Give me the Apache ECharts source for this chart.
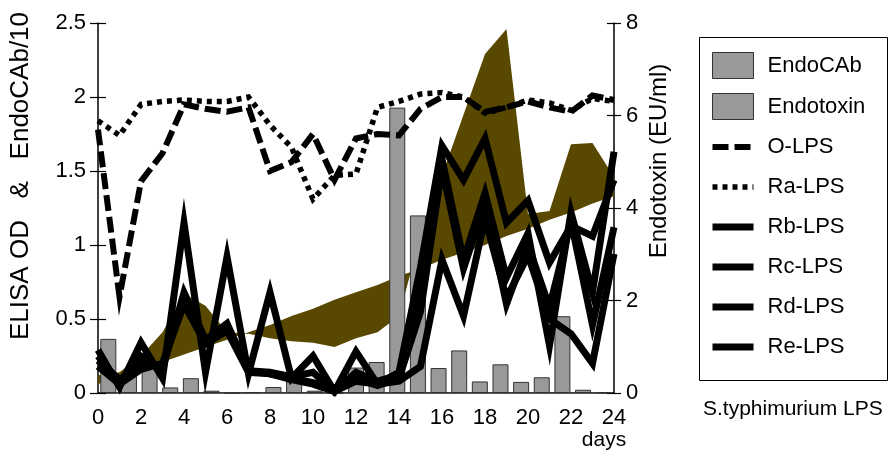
<!DOCTYPE html>
<html><head><meta charset="utf-8">
<script src="https://cdn.jsdelivr.net/npm/echarts@6/dist/echarts.min.js"></script>
<style>html,body{margin:0;padding:0;background:#fff}#c{width:893px;height:453px}</style>
</head><body><div id="c"></div>
<script>
const days = [0,1,2,3,4,5,6,7,8,9,10,11,12,13,14,15,16,17,18,19,20,21,22,23,24];
const xTickLabels = ['0','2','4','6','8','10','12','14','16','18','20','22','24'];
const leftTicks = [0, 0.5, 1, 1.5, 2, 2.5];
const rightTicks = [0, 2, 4, 6, 8];

// Endotoxin (EU/ml, right axis) - bars
const endotoxin = [1.17,0.38,0.62,0.12,0.32,0.05,0.0,0.02,0.13,0.25,0.05,0.0,0.55,0.67,6.17,3.84,0.54,0.92,0.25,0.62,0.24,0.34,1.66,0.07,0.01];
// EndoCAb/10 band: measured level and reference trend
const endocabLevel = [0.12,0.14,0.25,0.41,0.67,0.59,0.41,0.40,0.37,0.35,0.34,0.31,0.37,0.41,0.52,1.06,1.47,1.88,2.29,2.46,1.21,1.23,1.68,1.69,1.46];
const endocabTrend = [0.06,0.10,0.15,0.21,0.26,0.31,0.36,0.41,0.46,0.52,0.57,0.63,0.68,0.73,0.79,0.84,0.90,0.95,1.00,1.06,1.11,1.17,1.22,1.28,1.33];
// ELISA OD (left axis)
const oLPS  = [1.78,0.65,1.43,1.62,1.95,1.92,1.90,1.93,1.50,1.56,1.75,1.44,1.72,1.75,1.74,1.92,2.00,2.00,1.90,1.93,1.97,1.93,1.90,2.01,1.98];
const raLPS = [1.84,1.74,1.95,1.97,1.98,1.97,1.97,2.00,1.81,1.66,1.31,1.47,1.48,1.93,1.97,2.02,2.03,2.00,1.89,1.93,1.98,1.96,1.91,1.99,1.97];
const rbLPS = [0.29,0.04,0.34,0.10,1.15,0.14,0.92,0.13,0.68,0.10,0.25,0.01,0.28,0.06,0.14,0.85,1.67,1.44,1.72,1.15,1.30,0.88,1.13,1.06,1.44];
const rcLPS = [0.25,0.07,0.25,0.16,0.68,0.36,0.47,0.15,0.14,0.11,0.14,0.01,0.14,0.08,0.12,0.75,1.58,0.90,1.35,0.78,1.08,0.32,1.22,0.68,1.63];
const rdLPS = [0.22,0.09,0.20,0.18,0.64,0.34,0.44,0.15,0.13,0.10,0.07,0.02,0.10,0.05,0.10,0.55,1.52,0.84,1.28,0.60,1.00,0.58,1.16,0.46,1.12];
const reLPS = [0.18,0.06,0.16,0.20,0.60,0.33,0.42,0.14,0.13,0.09,0.06,0.01,0.08,0.06,0.08,0.18,0.90,0.52,1.18,0.64,0.93,0.50,0.40,0.20,0.94];

const FONT = "'Liberation Sans', Arial, sans-serif";
const bandColor = '#584800';
const barColor = '#999999';

const pairs = arr => days.map((d, i) => [d, arr[i]]);
function lineSeries(name, arr, width, dash) {
  return {
    name, type: 'line', xAxisIndex: 0, yAxisIndex: 0, z: 5,
    data: pairs(arr), symbol: 'none', showSymbol: false, animation: false,
    lineStyle: { color: '#000', width: width, type: dash || 'solid', join: 'miter', miterLimit: 12, cap: 'butt' },
    itemStyle: { color: '#000' }
  };
}

const chart = echarts.init(document.getElementById('c'), null, { renderer: 'canvas' });
chart.setOption({
  animation: false,
  textStyle: { fontFamily: FONT },
  grid: { left: 98, right: 279, top: 23, bottom: 60, containLabel: false },
  xAxis: [
    { type: 'value', min: 0, max: 24, interval: 2, position: 'bottom',
      axisLine: { show: true, lineStyle: { color: '#000', width: 1.5 } },
      axisTick: { show: false }, splitLine: { show: false },
      axisLabel: { fontSize: 22, color: '#000', margin: 14, fontFamily: FONT,
        formatter: v => xTickLabels[v / 2] } },
    { type: 'category', data: days.map(String), position: 'top', boundaryGap: true,
      axisLine: { show: true, lineStyle: { color: '#555', width: 1 } },
      axisTick: { show: false }, axisLabel: { show: false }, splitLine: { show: false } }
  ],
  yAxis: [
    { type: 'value', min: 0, max: 2.5, interval: 0.5, position: 'left',
      axisLine: { show: true, lineStyle: { color: '#000', width: 1.5 } },
      axisTick: { show: true, inside: false, length: 8, lineStyle: { color: '#000', width: 1.2 } },
      splitLine: { show: false },
      axisLabel: { fontSize: 22, color: '#000', margin: 12, fontFamily: FONT,
        formatter: v => String(leftTicks[Math.round(v / 0.5)]) } },
    { type: 'value', min: 0, max: 8, interval: 2, position: 'right',
      axisLine: { show: true, lineStyle: { color: '#000', width: 1.5 } },
      axisTick: { show: true, inside: false, length: 7, lineStyle: { color: '#000', width: 1.2 } },
      splitLine: { show: false },
      axisLabel: { fontSize: 22, color: '#000', margin: 12, fontFamily: FONT,
        formatter: v => String(rightTicks[Math.round(v / 2)]) } },
    { type: 'value', min: 0, max: 2.5, interval: 0.5, position: 'left',
      axisLine: { show: false }, axisLabel: { show: false }, splitLine: { show: false },
      axisTick: { show: true, inside: true, length: 8, lineStyle: { color: '#000', width: 1.2 } } },
    { type: 'value', min: 0, max: 8, interval: 2, position: 'right',
      axisLine: { show: false }, axisLabel: { show: false }, splitLine: { show: false },
      axisTick: { show: true, inside: true, length: 7, lineStyle: { color: '#000', width: 1.2 } } }
  ],
  legend: {
    orient: 'vertical', left: 709, top: 52, padding: 0,
    itemWidth: 41, itemHeight: 26, itemGap: 14,
    textStyle: { fontSize: 22, color: '#000', fontFamily: FONT, lineHeight: 26, height: 26, padding: [0, 0, 0, 9] },
    itemStyle: { opacity: 0 },
    lineStyle: { width: 'inherit', type: 'inherit' },
    selectedMode: false,
    data: [
      { name: 'EndoCAb', icon: 'rect', itemStyle: { color: barColor, borderColor: '#333', borderWidth: 1, opacity: 1 } },
      { name: 'Endotoxin', icon: 'rect', itemStyle: { color: barColor, borderColor: '#333', borderWidth: 1, opacity: 1 } },
      'O-LPS', 'Ra-LPS', 'Rb-LPS', 'Rc-LPS', 'Rd-LPS', 'Re-LPS'
    ]
  },
  graphic: [
    { type: 'rect', left: 697, top: 35, z: 0, shape: { width: 188, height: 343 },
      style: { fill: 'none', stroke: '#000', lineWidth: 1 } },
    { type: 'text', x: 703, y: 409, style: { text: 'S.typhimurium LPS', font: "21px " + FONT, fill: '#000', textVerticalAlign: 'middle' } },
    { type: 'text', x: 604, y: 440, style: { text: 'days', font: "21px " + FONT, fill: '#000', textAlign: 'center', textVerticalAlign: 'middle' } },
    { type: 'text', x: 21, y: 176, rotation: Math.PI / 2,
      style: { text: 'ELISA OD   &   EndoCAb/10', font: "26px " + FONT, fill: '#000', textAlign: 'center', textVerticalAlign: 'middle' } },
    { type: 'text', x: 659, y: 161, rotation: Math.PI / 2,
      style: { text: 'Endotoxin (EU/ml)', font: "24px " + FONT, fill: '#000', textAlign: 'center', textVerticalAlign: 'middle' } }
  ],
  series: [
    { name: 'EndoCAb', type: 'custom', xAxisIndex: 0, yAxisIndex: 0, z: 1,
      data: [[0, 0]], itemStyle: { color: bandColor },
      renderItem: function (params, api) {
        if (params.dataIndex !== 0) return;
        const upper = days.map((d, i) => api.coord([d, endocabLevel[i]]));
        const lower = days.map((d, i) => api.coord([d, endocabTrend[i]])).reverse();
        return { type: 'polygon', shape: { points: upper.concat(lower) }, style: { fill: bandColor } };
      } },
    { name: 'Endotoxin', type: 'bar', xAxisIndex: 1, yAxisIndex: 1, z: 3,
      data: endotoxin, barWidth: 16,
      itemStyle: { color: barColor, borderColor: '#333', borderWidth: 1 } },
    lineSeries('O-LPS', oLPS, 6, [16, 6]),
    lineSeries('Ra-LPS', raLPS, 5.5, [5, 5]),
    lineSeries('Rb-LPS', rbLPS, 7),
    lineSeries('Rc-LPS', rcLPS, 7),
    lineSeries('Rd-LPS', rdLPS, 7),
    lineSeries('Re-LPS', reLPS, 7)
  ]
});
</script></body></html>
